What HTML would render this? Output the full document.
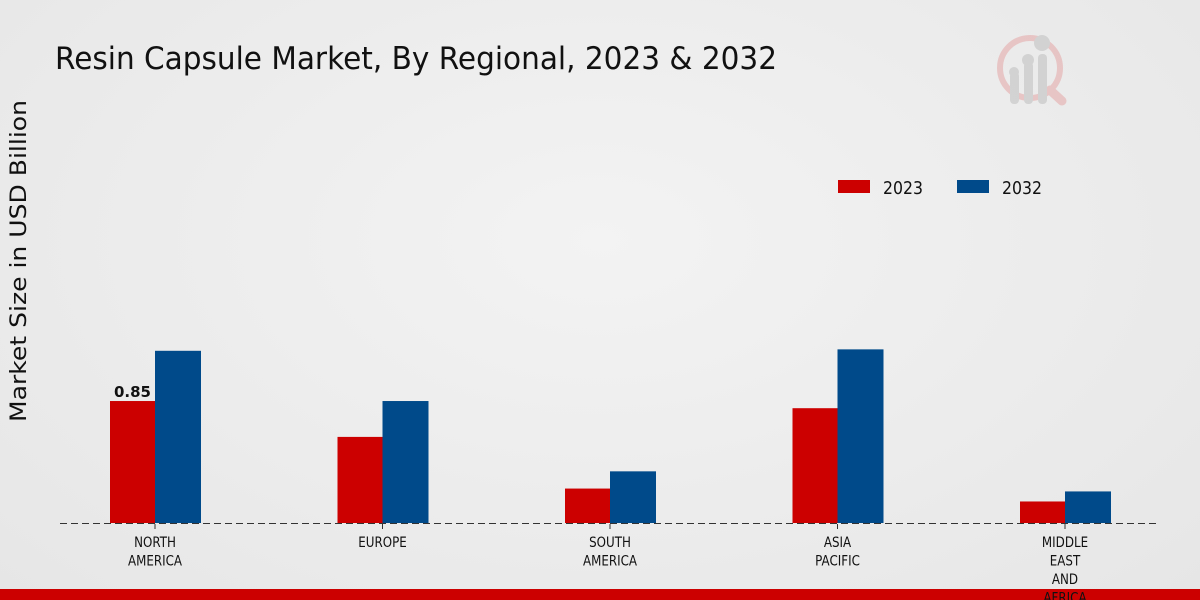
<!DOCTYPE html>
<html><head><meta charset="utf-8"><style>
html,body{margin:0;padding:0;width:1200px;height:600px;overflow:hidden}
body{background:radial-gradient(ellipse at 50% 40%,#f3f3f3 0%,#e6e6e6 100%);font-family:"DejaVu Sans","Liberation Sans",sans-serif}
</style></head><body>
<svg id="chart" width="1200" height="600" xmlns="http://www.w3.org/2000/svg" style="position:absolute;left:0;top:0">
<text x="55" y="69" font-size="31" fill="#111" textLength="722" lengthAdjust="spacingAndGlyphs">Resin Capsule Market, By Regional, 2023 &amp; 2032</text>
<text transform="translate(26,261) rotate(-90)" text-anchor="middle" font-size="22" fill="#111" textLength="322" lengthAdjust="spacingAndGlyphs">Market Size in USD Billion</text>
<g opacity="0.5">
<circle cx="1030" cy="68" r="30" fill="none" stroke="#e4a0a0" stroke-width="6"/>
<line x1="1050" y1="90" x2="1062" y2="101" stroke="#e4a0a0" stroke-width="9" stroke-linecap="round"/>
<rect x="1010" y="72" width="9" height="32" rx="4" fill="#bbb"/><rect x="1024" y="62" width="9" height="42" rx="4" fill="#bbb"/><rect x="1038" y="54" width="9" height="50" rx="4" fill="#bbb"/>
<circle cx="1014" cy="72" r="5" fill="#bbb"/><circle cx="1028" cy="60" r="6" fill="#bbb"/><circle cx="1042" cy="43" r="8" fill="#bbb"/>
</g>
<g>
<rect x="838" y="180" width="32" height="13" fill="#cc0000"/>
<text x="883" y="194" font-size="18" fill="#111" textLength="40" lengthAdjust="spacingAndGlyphs">2023</text>
<rect x="957" y="180" width="32" height="13" fill="#004a8a"/>
<text x="1002" y="194" font-size="18" fill="#111" textLength="40" lengthAdjust="spacingAndGlyphs">2032</text>
</g>
<g id="bars"></g>
<line x1="60" y1="523.5" x2="1160" y2="523.5" stroke="#333" stroke-dasharray="7,4" stroke-width="1"/>
<rect x="0" y="589" width="1200" height="11" fill="#cc0000"/>
<g id="xlabels"></g>
</svg>
<script>
const categories=[["NORTH","AMERICA"],["EUROPE"],["SOUTH","AMERICA"],["ASIA","PACIFIC"],["MIDDLE","EAST","AND","AFRICA"]];
const values2023=[0.85,0.60,0.24,0.80,0.15];
const values2032=[1.20,0.85,0.36,1.21,0.22];
const labels2023=["0.85","","","",""];
const NS="http://www.w3.org/2000/svg";
const base=523,scale=143.5,x0=155,step=227.5,bw=45;
const yS=v=>base-v*scale, xC=i=>x0+i*step;
const bars=document.getElementById('bars'),xl=document.getElementById('xlabels');
function mk(t,a){const e=document.createElementNS(NS,t);for(const k in a)e.setAttribute(k,a[k]);return e;}
categories.forEach((c,i)=>{
  const cx=xC(i);
  const r1=mk('rect',{x:cx-bw,y:yS(values2023[i]),width:bw,height:values2023[i]*scale,fill:'#cc0000'});
  
  
  bars.appendChild(r1);
  const r2=mk('rect',{x:cx,y:yS(values2032[i]),width:bw+1,height:values2032[i]*scale,fill:'#004a8a'});
  
  
  bars.appendChild(r2);
  if(labels2023[i]){
    const t=mk('text',{x:cx-bw/2,y:yS(values2023[i])-4,'text-anchor':'middle','font-size':'15','font-weight':'bold',fill:'#111'});
    t.textContent=labels2023[i];
    
    
    bars.appendChild(t);
  }
  const tk=mk('line',{x1:cx,y1:524,x2:cx,y2:529,stroke:'#333'});
  
  
  xl.appendChild(tk);
  c.forEach((ln,j)=>{
    const t=mk('text',{x:0,y:0,'text-anchor':'middle','font-size':'14.5',fill:'#111',transform:'translate('+cx+','+(547+j*18.5)+') scale(0.82,1)'});
    t.textContent=ln;
    
    
    xl.appendChild(t);
  });
});
</script>
</body></html>
